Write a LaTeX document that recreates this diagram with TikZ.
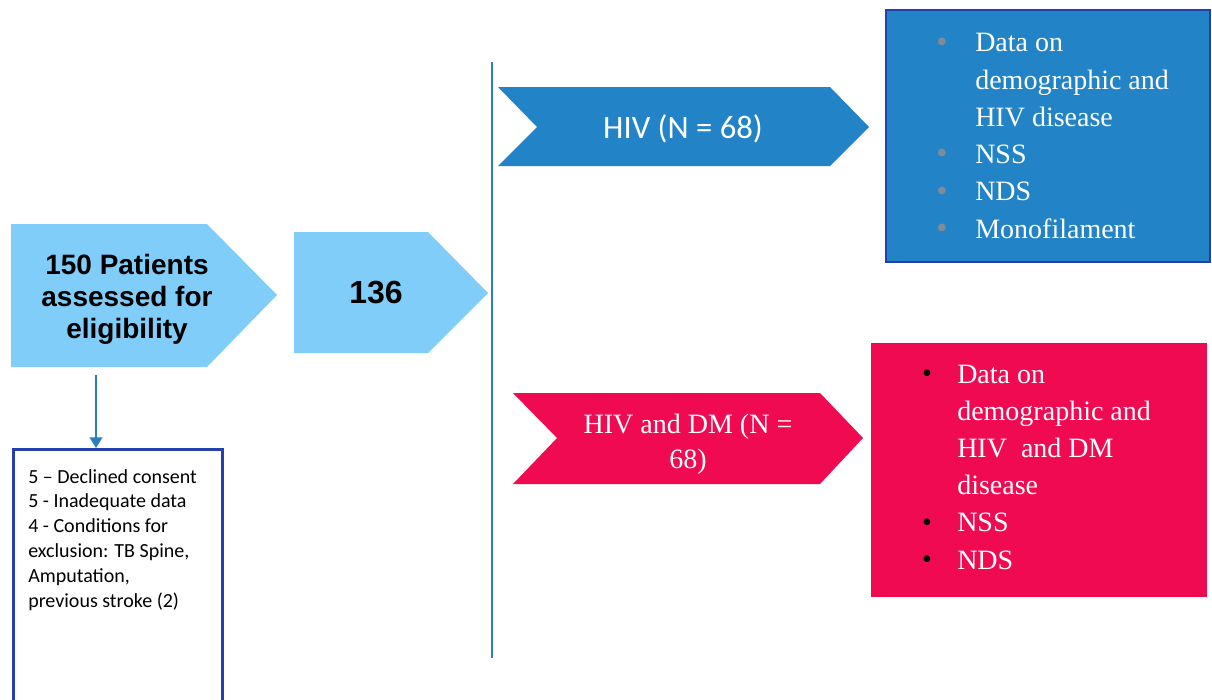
\documentclass[tikz,border=0pt]{standalone}
\usepackage{fontspec}
\setmainfont{Liberation Serif}
\newfontfamily\arialf{Liberation Sans}
\newfontfamily\calf{Carlito}
\usetikzlibrary{arrows.meta}
\definecolor{lblue}{HTML}{80CDFA}
\definecolor{mblue}{HTML}{2283C6}
\definecolor{dblue}{HTML}{2340AE}
\definecolor{lineblue}{HTML}{2A7FC4}
\definecolor{rosered}{HTML}{EF0A52}
\definecolor{bulgray}{HTML}{7F8B98}
\begin{document}
\begin{tikzpicture}[x=0.75pt,y=-0.75pt,
  listline/.style={anchor=base west,inner sep=0pt,text=white,font=\fontsize{21}{25}\selectfont},
  graybul/.style={anchor=center,inner sep=0pt,text=bulgray,font=\fontsize{24}{26}\selectfont},
  blackbul/.style={anchor=center,inner sep=0pt,text=black,font=\fontsize{21}{24}\selectfont},
  exline/.style={anchor=base west,inner sep=0pt,text=black,font=\calf\fontsize{15}{18}\selectfont},
  pentlabel/.style={font=\arialf\bfseries\fontsize{21}{24}\selectfont,align=center,inner sep=0pt},
  chevlabel/.style={anchor=base,inner sep=0pt,text=white}]
\useasboundingbox (0,0) rectangle (1212,699);
\fill[white] (0,0) rectangle (1212,699);

% left pentagons
\fill[lblue] (11,224) -- (207,224) -- (277,295) -- (207,367) -- (11,367) -- cycle;
\node[pentlabel] (p1) at (127,299) {150 Patients\\assessed for\\eligibility};
\fill[lblue] (294,232) -- (428,232) -- (488,293) -- (428,353) -- (294,353) -- cycle;
\node[font=\arialf\bfseries\fontsize{24}{28}\selectfont,inner sep=0pt] (p2) at (376,293) {136};

% separator line
\coordinate (sepTop) at (491.5,62);
\coordinate (sepBot) at (491.5,658);
\draw[lineblue,line width=1.5pt] (sepTop) -- (sepBot);

% exclusion box
\node[draw=dblue,line width=2.2pt,fill=white,anchor=north west,minimum width=209*0.75pt,minimum height=280*0.75pt,inner sep=0pt] (excl) at (12,448) {};
\node[exline] (e1) at (28,483) {5 – Declined consent};
\node[exline] (e2) at (28,507.8) {5 - Inadequate data};
\node[exline] (e3) at (28,532.6) {4 - Conditions for};
\node[exline] (e4) at (28,557.4) {exclusion: TB Spine,};
\node[exline] (e5) at (28,582.2) {Amputation,};
\node[exline] (e6) at (28,607) {previous stroke (2)};

% arrow
\coordinate (arrStart) at (96,375);
\draw[lineblue,line width=1.5pt,-{Triangle[width=9.5pt,length=8pt]}] (arrStart) -- (arrStart |- excl.north);

% HIV chevron
\fill[mblue] (498,87) -- (830,87) -- (869,127) -- (830,166) -- (498,166) -- (537,127) -- cycle;
\node[chevlabel,font=\calf\fontsize{24.5}{28}\selectfont] (c1) at (683,138) {HIV (N = 68)};

% HIV box
\fill[mblue] (886,10) rectangle (1210,262);
\draw[dblue,line width=2.2pt] (886,10) rectangle (1210,262);
\node[graybul] (gb1) at (942,45) {•};
\node[listline] (b1) at (975,52) {Data on};
\node[listline] (b2) at (975,89.2) {demographic and};
\node[listline] (b3) at (975,126.4) {HIV disease};
\node[graybul] (gb4) at (942,156.6) {•};
\node[listline] (b4) at (975,163.6) {NSS};
\node[graybul] (gb5) at (942,193.8) {•};
\node[listline] (b5) at (975,200.8) {NDS};
\node[graybul] (gb6) at (942,231) {•};
\node[listline] (b6) at (975,238) {Monofilament};

% HIV and DM chevron
\fill[rosered] (513,393) -- (820,393) -- (863,438) -- (820,484) -- (513,484) -- (557,438) -- cycle;
\node[chevlabel,font=\fontsize{21}{25}\selectfont] (c2a) at (688,433) {HIV and DM (N =};
\node[chevlabel,font=\fontsize{21}{25}\selectfont] (c2b) at (688,468) {68)};

% HIV and DM box
\fill[rosered] (871,343) rectangle (1207,597);
\node[blackbul] (rb1) at (927,376) {•};
\node[listline] (r1) at (957,383) {Data on};
\node[listline] (r2) at (957,420.2) {demographic and};
\node[listline] (r3) at (957,457.4) {HIV\ \ and DM};
\node[listline] (r4) at (957,494.6) {disease};
\node[blackbul] (rb5) at (927,524.8) {•};
\node[listline] (r5) at (957,531.8) {NSS};
\node[blackbul] (rb6) at (927,562) {•};
\node[listline] (r6) at (957,569) {NDS};
\end{tikzpicture}
\end{document}
